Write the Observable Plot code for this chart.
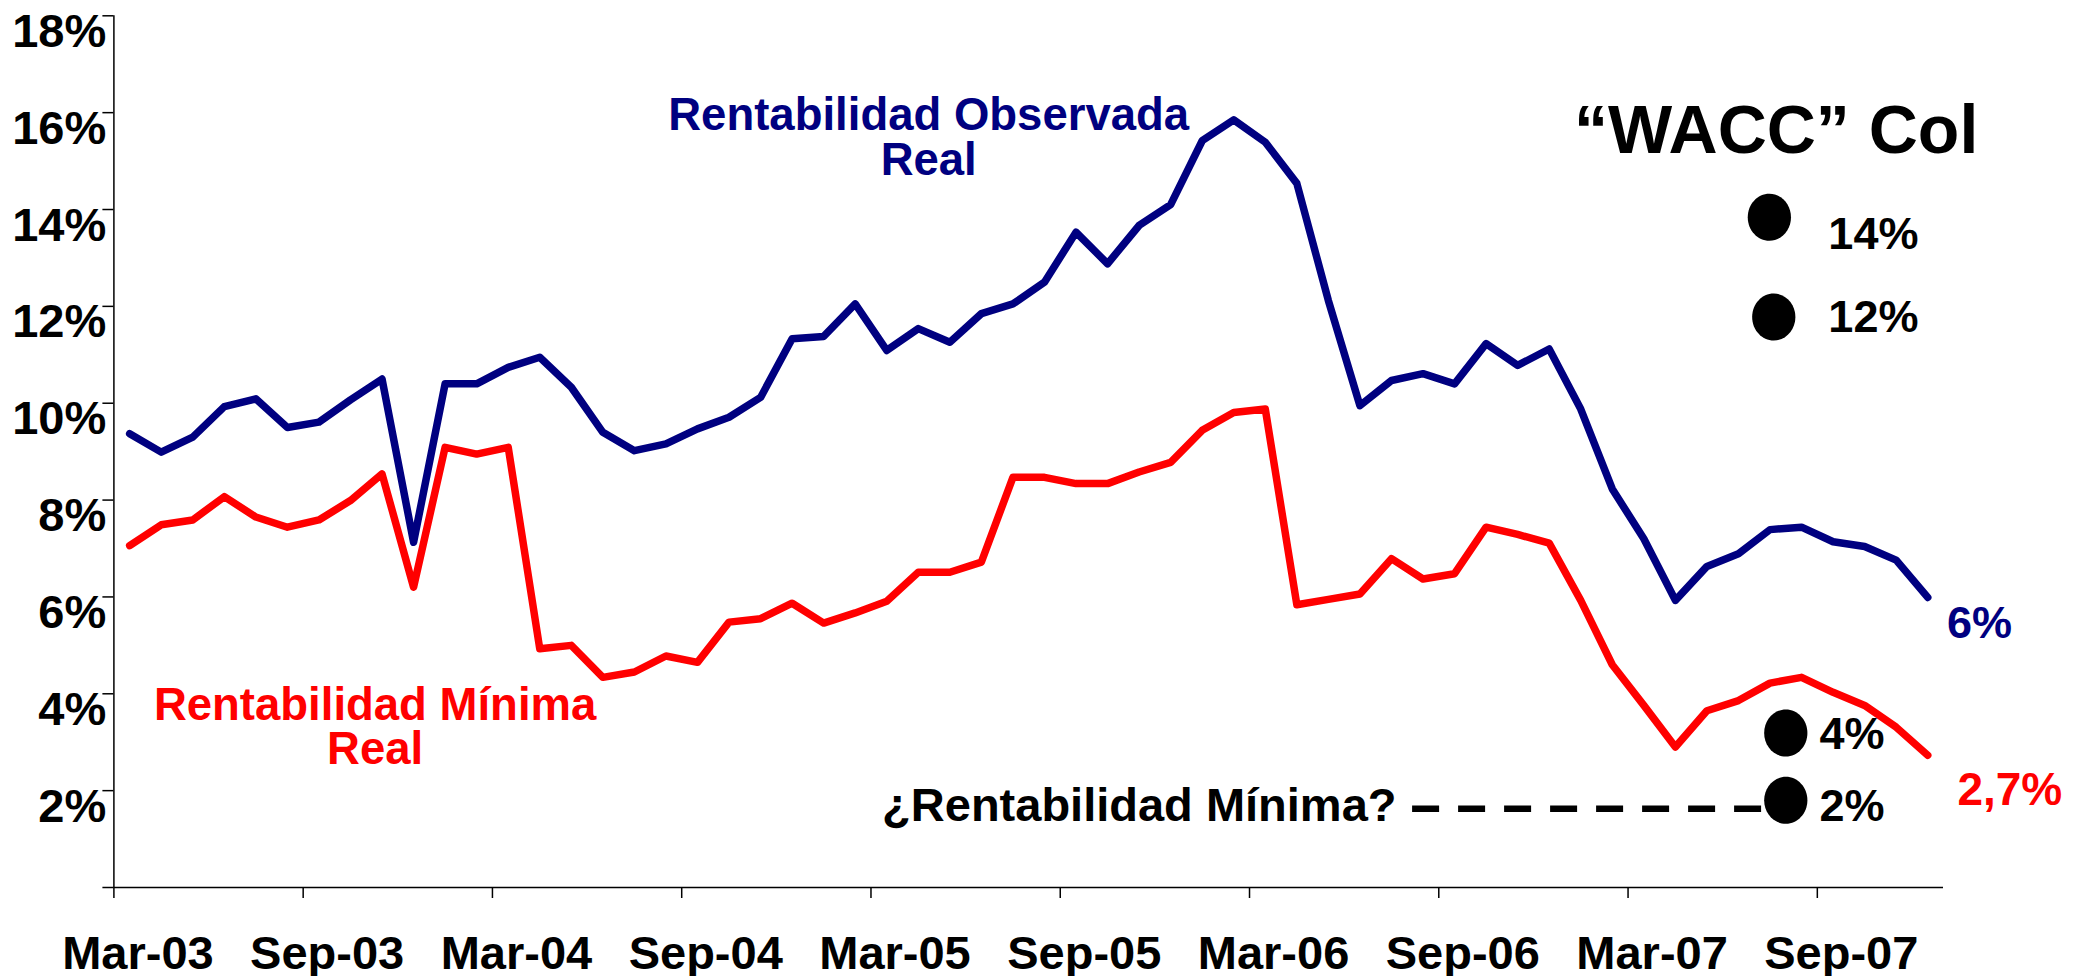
<!DOCTYPE html>
<html><head><meta charset="utf-8">
<script src="https://cdn.jsdelivr.net/npm/d3@7"></script>
<script src="https://cdn.jsdelivr.net/npm/@observablehq/plot@0.6"></script>
<style>html,body{margin:0;padding:0;background:#fff;overflow:hidden}</style>
</head><body><div id="chart"></div>
<script>
const months = ["Mar-03","Abr-03","May-03","Jun-03","Jul-03","Ago-03","Sep-03","Oct-03","Nov-03","Dic-03",
"Ene-04","Feb-04","Mar-04","Abr-04","May-04","Jun-04","Jul-04","Ago-04","Sep-04","Oct-04","Nov-04","Dic-04",
"Ene-05","Feb-05","Mar-05","Abr-05","May-05","Jun-05","Jul-05","Ago-05","Sep-05","Oct-05","Nov-05","Dic-05",
"Ene-06","Feb-06","Mar-06","Abr-06","May-06","Jun-06","Jul-06","Ago-06","Sep-06","Oct-06","Nov-06","Dic-06",
"Ene-07","Feb-07","Mar-07","Abr-07","May-07","Jun-07","Jul-07","Ago-07","Sep-07","Oct-07","Nov-07","Dic-07"];
const rentObservada = [9.37,8.99,9.30,9.93,10.09,9.50,9.61,10.07,10.50,7.13,
10.40,10.40,10.74,10.95,10.33,9.40,9.02,9.16,9.47,9.71,
10.12,11.33,11.38,12.05,11.09,11.54,11.26,11.85,12.05,12.50,
13.53,12.88,13.67,14.10,15.42,15.85,15.39,14.54,12.12,9.95,
10.47,10.61,10.40,11.23,10.78,11.12,9.88,8.23,7.20,5.93,
6.63,6.89,7.39,7.44,7.14,7.04,6.76,5.99];
const rentMinima = [7.06,7.49,7.59,8.07,7.65,7.44,7.59,7.99,8.54,6.20,
9.09,8.95,9.09,4.93,5.00,4.34,4.45,4.78,4.65,5.48,
5.55,5.87,5.46,5.67,5.91,6.51,6.51,6.72,8.47,8.47,
8.34,8.34,8.58,8.78,9.44,9.81,9.88,5.84,5.95,6.06,
6.79,6.37,6.48,7.44,7.29,7.11,5.93,4.60,3.76,2.90,
3.65,3.86,4.22,4.34,4.03,3.76,3.31,2.73];
const xTickLabels = ["Mar-03","Sep-03","Mar-04","Sep-04","Mar-05","Sep-05","Mar-06","Sep-06","Mar-07","Sep-07"];
const yTicks = [0,2,4,6,8,10,12,14,16,18];
const waccLabels = ["14%","12%","4%","2%"];

const data = months.map((m, i) => ({month: m, pos: i + 0.5, obs: rentObservada[i], min: rentMinima[i]}));
const xTickPos = xTickLabels.map(l => months.indexOf(l));
const font = "'Liberation Sans', Arial, Helvetica, sans-serif";
const BLUE = "#000080", RED = "#ff0000";

const ellipse = {draw(ctx, size) {
  const r = Math.sqrt(size / Math.PI), rx = r * 0.92, ry = r, k = 0.5523;
  ctx.moveTo(rx, 0);
  ctx.bezierCurveTo(rx, ry * k, rx * k, ry, 0, ry);
  ctx.bezierCurveTo(-rx * k, ry, -rx, ry * k, -rx, 0);
  ctx.bezierCurveTo(-rx, -ry * k, -rx * k, -ry, 0, -ry);
  ctx.bezierCurveTo(rx * k, -ry, rx, -ry * k, rx, 0);
  ctx.closePath();
}};

const wacc = [
  {label: waccLabels[0], dx: 52.48, dy: 13.84, tx: 54.35, ty: 13.19},
  {label: waccLabels[1], dx: 52.62, dy: 11.78, tx: 54.35, ty: 11.47},
  {label: waccLabels[2], dx: 53.0, dy: 3.19, tx: 54.07, ty: 2.86},
  {label: waccLabels[3], dx: 53.0, dy: 1.80, tx: 54.07, ty: 1.37}
];

const txt = {fontWeight: "bold", lineAnchor: "bottom"};

const plot = Plot.plot({
  width: 2082, height: 976,
  marginLeft: 113.4, marginRight: 139, marginTop: 15.3, marginBottom: 89,
  style: {fontFamily: font, background: "white", overflow: "visible"},
  x: {type: "linear", domain: [0, months.length]},
  y: {domain: [0, 18]},
  marks: [
    Plot.axisY(yTicks, {tickSize: 11, tickFormat: () => "", stroke: "black", strokeWidth: 1.5}),
    Plot.axisY(yTicks, {tickSize: 0, tickPadding: 7.6, tickFormat: d => d ? d + "%" : "", fontSize: 47, fontWeight: "bold", fill: "black", dy: 16}),
    Plot.axisX(xTickPos, {tickSize: 11, tickFormat: () => "", stroke: "black", strokeWidth: 1.5}),
    Plot.axisX(xTickPos, {tickSize: 0, tickPadding: 48, tickFormat: d => months[d], fontSize: 47, fontWeight: "bold", fill: "black", dx: 24}),
    Plot.ruleX([0], {y1: 0, y2: 18, stroke: "black", strokeWidth: 1.5}),
    Plot.ruleY([0], {x1: 0, x2: months.length, stroke: "black", strokeWidth: 1.5}),
    Plot.lineY(data, {x: "pos", y: "obs", stroke: BLUE, strokeWidth: 7.5, strokeLinejoin: "round"}),
    Plot.lineY(data, {x: "pos", y: "min", stroke: RED, strokeWidth: 7.5, strokeLinejoin: "round"}),
    Plot.text(["Rentabilidad Observada\nReal"], {x: 25.83, y: 14.72, text: d => d, fill: BLUE, fontSize: 45.5, lineHeight: 0.99, textAnchor: "middle", ...txt}),
    Plot.text(["Rentabilidad Mínima\nReal"], {x: 8.28, y: 2.55, text: d => d, fill: RED, fontSize: 45.5, lineHeight: 0.97, textAnchor: "middle", ...txt}),
    Plot.text(["¿Rentabilidad Mínima?"], {x: 40.66, y: 1.38, text: d => d, fill: "black", fontSize: 47, textAnchor: "end", ...txt}),
    Plot.ruleY([1.625], {x1: 41.17, x2: 52.3, stroke: "black", strokeWidth: 6.5, strokeDasharray: "27,19"}),
    Plot.text(["\u201CWACC\u201D Col"], {x: 46.29, y: 15.16, text: d => d, fill: "black", fontSize: 68, textAnchor: "start", ...txt}),
    Plot.dot(wacc, {x: "dx", y: "dy", r: 23.5, symbol: ellipse, fill: "black", stroke: "none"}),
    Plot.text(wacc, {x: "tx", y: "ty", text: "label", fill: "black", fontSize: 45, textAnchor: "start", ...txt}),
    Plot.text(["6%"], {x: 58.11, y: 5.16, text: d => d, fill: BLUE, fontSize: 45, textAnchor: "start", ...txt}),
    Plot.text(["2,7%"], {x: 58.44, y: 1.71, text: d => d, fill: RED, fontSize: 46, textAnchor: "start", ...txt})
  ]
});
document.getElementById("chart").appendChild(plot);
</script>
</body></html>
